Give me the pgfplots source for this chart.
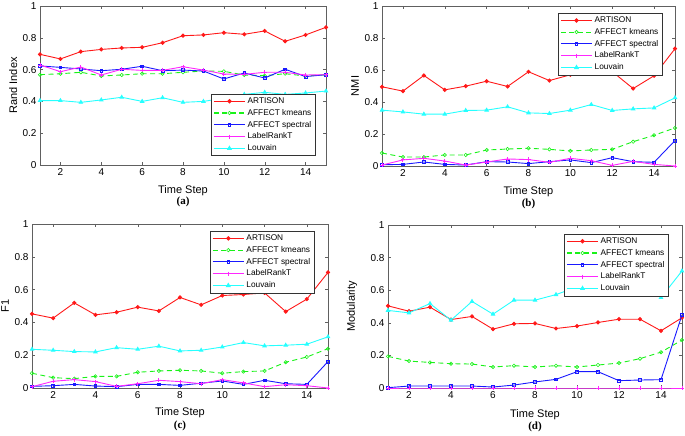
\documentclass[border=0pt]{standalone}
\usepackage{pgfplots}
\usepackage{pgfplotstable}
\pgfplotsset{compat=1.18}
\usepackage{fontspec}
\setmainfont{Liberation Sans}
\newfontfamily\serifb{Liberation Serif}

\definecolor{cR}{rgb}{1,0.1,0.1}
\definecolor{cG}{rgb}{0.1,0.95,0.1}
\definecolor{cB}{rgb}{0.1,0.1,1}
\definecolor{cM}{rgb}{1,0.15,1}
\definecolor{cC}{rgb}{0.15,1,1}

\pgfplotstableread{
x art km sp lr lv
1 0.696 0.568 0.623 0.629 0.405
2 0.667 0.574 0.614 0.587 0.405
3 0.713 0.583 0.604 0.616 0.394
4 0.727 0.560 0.593 0.566 0.409
5 0.736 0.566 0.602 0.602 0.426
6 0.740 0.574 0.621 0.595 0.400
7 0.769 0.574 0.593 0.595 0.423
8 0.813 0.583 0.597 0.618 0.394
9 0.818 0.591 0.591 0.597 0.400
10 0.832 0.589 0.541 0.572 0.420
11 0.822 0.566 0.579 0.570 0.444
12 0.843 0.562 0.547 0.583 0.457
13 0.778 0.574 0.602 0.583 0.444
14 0.818 0.560 0.556 0.566 0.453
15 0.866 0.568 0.568 0.568 0.465
}\tA
\pgfplotstableread{
x art km sp lr lv
1 0.495 0.081 0.008 0.006 0.349
2 0.468 0.056 0.010 0.038 0.338
3 0.566 0.056 0.025 0.048 0.324
4 0.476 0.069 0.010 0.031 0.324
5 0.499 0.069 0.006 0.006 0.347
6 0.530 0.100 0.027 0.025 0.349
7 0.497 0.106 0.025 0.044 0.370
8 0.589 0.111 0.015 0.040 0.332
9 0.534 0.104 0.027 0.023 0.328
10 0.570 0.094 0.038 0.048 0.349
11 0.600 0.100 0.021 0.033 0.384
12 0.590 0.104 0.052 0.004 0.347
13 0.484 0.152 0.027 0.029 0.357
14 0.564 0.192 0.023 0.010 0.363
15 0.733 0.238 0.159 0.000 0.426
}\tB
\pgfplotstableread{
x art km sp lr lv
1 0.452 0.090 0.010 0.008 0.236
2 0.426 0.063 0.014 0.041 0.230
3 0.519 0.057 0.022 0.051 0.222
4 0.446 0.071 0.012 0.039 0.220
5 0.462 0.071 0.008 0.010 0.246
6 0.493 0.096 0.022 0.026 0.236
7 0.470 0.104 0.022 0.047 0.255
8 0.552 0.108 0.016 0.039 0.226
9 0.507 0.104 0.029 0.026 0.230
10 0.564 0.090 0.043 0.051 0.250
11 0.570 0.100 0.022 0.031 0.277
12 0.580 0.104 0.047 0.008 0.257
13 0.466 0.157 0.026 0.020 0.261
14 0.542 0.189 0.022 0.014 0.267
15 0.705 0.240 0.161 0.000 0.312
}\tC
\pgfplotstableread{
x art km sp lr lv
1 0.504 0.194 0.002 0 0.476
2 0.471 0.165 0.012 0 0.461
3 0.496 0.157 0.012 0 0.518
4 0.420 0.149 0.012 0 0.416
5 0.439 0.147 0.012 0 0.531
6 0.361 0.129 0.006 0 0.453
7 0.394 0.137 0.018 0 0.539
8 0.396 0.129 0.037 0 0.539
9 0.365 0.137 0.053 0 0.573
10 0.380 0.129 0.100 0 0.620
11 0.402 0.141 0.100 0 0.650
12 0.422 0.153 0.045 0 0.660
13 0.422 0.180 0.049 0 0.650
14 0.351 0.220 0.051 0 0.555
15 0.431 0.294 0.449 0 0.718
}\tD

\pgfplotsset{
  panel/.style={
    scale only axis, xmin=1, xmax=15, ymin=0, ymax=1,
    xtick={2,4,...,14}, ytick={0,0.2,...,1},
    yticklabels={0,0.2,0.4,0.6,0.8,1},
    tick align=inside, major tick length=3pt,
    axis line style={gray!75!black, line width=0.5pt},
    tick style={gray!75!black, line width=0.4pt},
    /pgf/number format/assume math mode=true,
    ticklabel style={font=\fontsize{10}{12}\selectfont},
    label style={font=\fontsize{11}{13}\selectfont},
    xlabel={Time Step},
    clip mode=individual,
    legend cell align=left,
    legend style={font=\fontsize{8.3}{10}\selectfont, draw=black!80, fill=white,
      inner xsep=2pt, inner ysep=1.5pt, row sep=0.3pt, anchor=north west},
    legend image post style={line width=1.1pt},
    legend image code/.code={\draw[mark repeat=2,mark phase=2] plot coordinates {(0cm,0cm) (0.55cm,0cm) (1.1cm,0cm)};},
  },
  sA/.style={draw=cR, line width=0.9pt, mark=*, mark size=1.6pt, mark options={solid, draw=cR, fill=cR}},
  sK/.style={draw=cG, line width=0.9pt, dash pattern=on 5pt off 3.5pt, mark=o, mark size=1.7pt, mark options={solid, draw=cG, line width=0.6pt}},
  sS/.style={draw=cB, line width=0.9pt, mark=square, mark size=1.3pt, mark options={solid, draw=cB, line width=0.7pt}},
  sL/.style={draw=cM, line width=0.9pt, mark=+, mark size=2.1pt, mark options={solid, draw=cM}},
  sV/.style={draw=cC, line width=0.9pt, mark=triangle*, mark size=1.9pt, mark options={solid, draw=cC, fill=cC}},
}

\newcommand{\allplots}[1]{%
  \addplot[sA] table[x=x,y=art]{#1}; \addlegendentry{ARTISON}
  \addplot[sK] table[x=x,y=km]{#1}; \addlegendentry{AFFECT kmeans}
  \addplot[sS] table[x=x,y=sp]{#1}; \addlegendentry{AFFECT spectral}
  \addplot[sL] table[x=x,y=lr]{#1}; \addlegendentry{LabelRankT}
  \addplot[sV] table[x=x,y=lv]{#1}; \addlegendentry{Louvain}
}

\begin{document}
\begin{tikzpicture}
\path[use as bounding box] (0pt,0pt) rectangle (685pt,436pt);

% (a)
\begin{axis}[panel, at={(40pt,271pt)}, anchor=south west, width=286pt, height=159pt,
  ylabel={Rand Index},
  xlabel style={at={(axis description cs:0.5,-0.164)}, anchor=center},
  ylabel style={at={(axis description cs:-0.094,0.5)}, anchor=center},
  legend style={at={(axis description cs:0.598,0.447)}}]
\allplots{\tA}
\node[font=\serifb\bfseries\fontsize{11}{13}\selectfont] at (axis description cs:0.5,-0.233) {(a)};
\end{axis}

% (b)
\begin{axis}[panel, at={(382pt,270pt)}, anchor=south west, width=293pt, height=160pt,
  ylabel={NMI},
  xlabel style={at={(axis description cs:0.5,-0.163)}, anchor=center},
  ylabel style={at={(axis description cs:-0.092,0.5)}, anchor=center},
  legend style={at={(axis description cs:0.601,0.956)}}]
\allplots{\tB}
\node[font=\serifb\bfseries\fontsize{11}{13}\selectfont] at (axis description cs:0.5,-0.235) {(b)};
\end{axis}

% (c)
\begin{axis}[panel, at={(32pt,48pt)}, anchor=south west, width=296pt, height=164pt,
  ylabel={F1},
  xlabel style={at={(axis description cs:0.5,-0.152)}, anchor=center},
  ylabel style={at={(axis description cs:-0.091,0.5)}, anchor=center},
  legend style={at={(axis description cs:0.601,0.957)}}]
\allplots{\tC}
\node[font=\serifb\bfseries\fontsize{11}{13}\selectfont] at (axis description cs:0.5,-0.232) {(c)};
\end{axis}

% (d)
\begin{axis}[panel, at={(388pt,48pt)}, anchor=south west, width=294pt, height=163pt,
  ylabel={Modularity},
  xlabel style={at={(axis description cs:0.5,-0.166)}, anchor=center},
  ylabel style={at={(axis description cs:-0.122,0.5)}, anchor=center},
  legend style={at={(axis description cs:0.599,0.945)}}]
\allplots{\tD}
\node[font=\serifb\bfseries\fontsize{11}{13}\selectfont] at (axis description cs:0.5,-0.24) {(d)};
\end{axis}
\end{tikzpicture}
\end{document}
